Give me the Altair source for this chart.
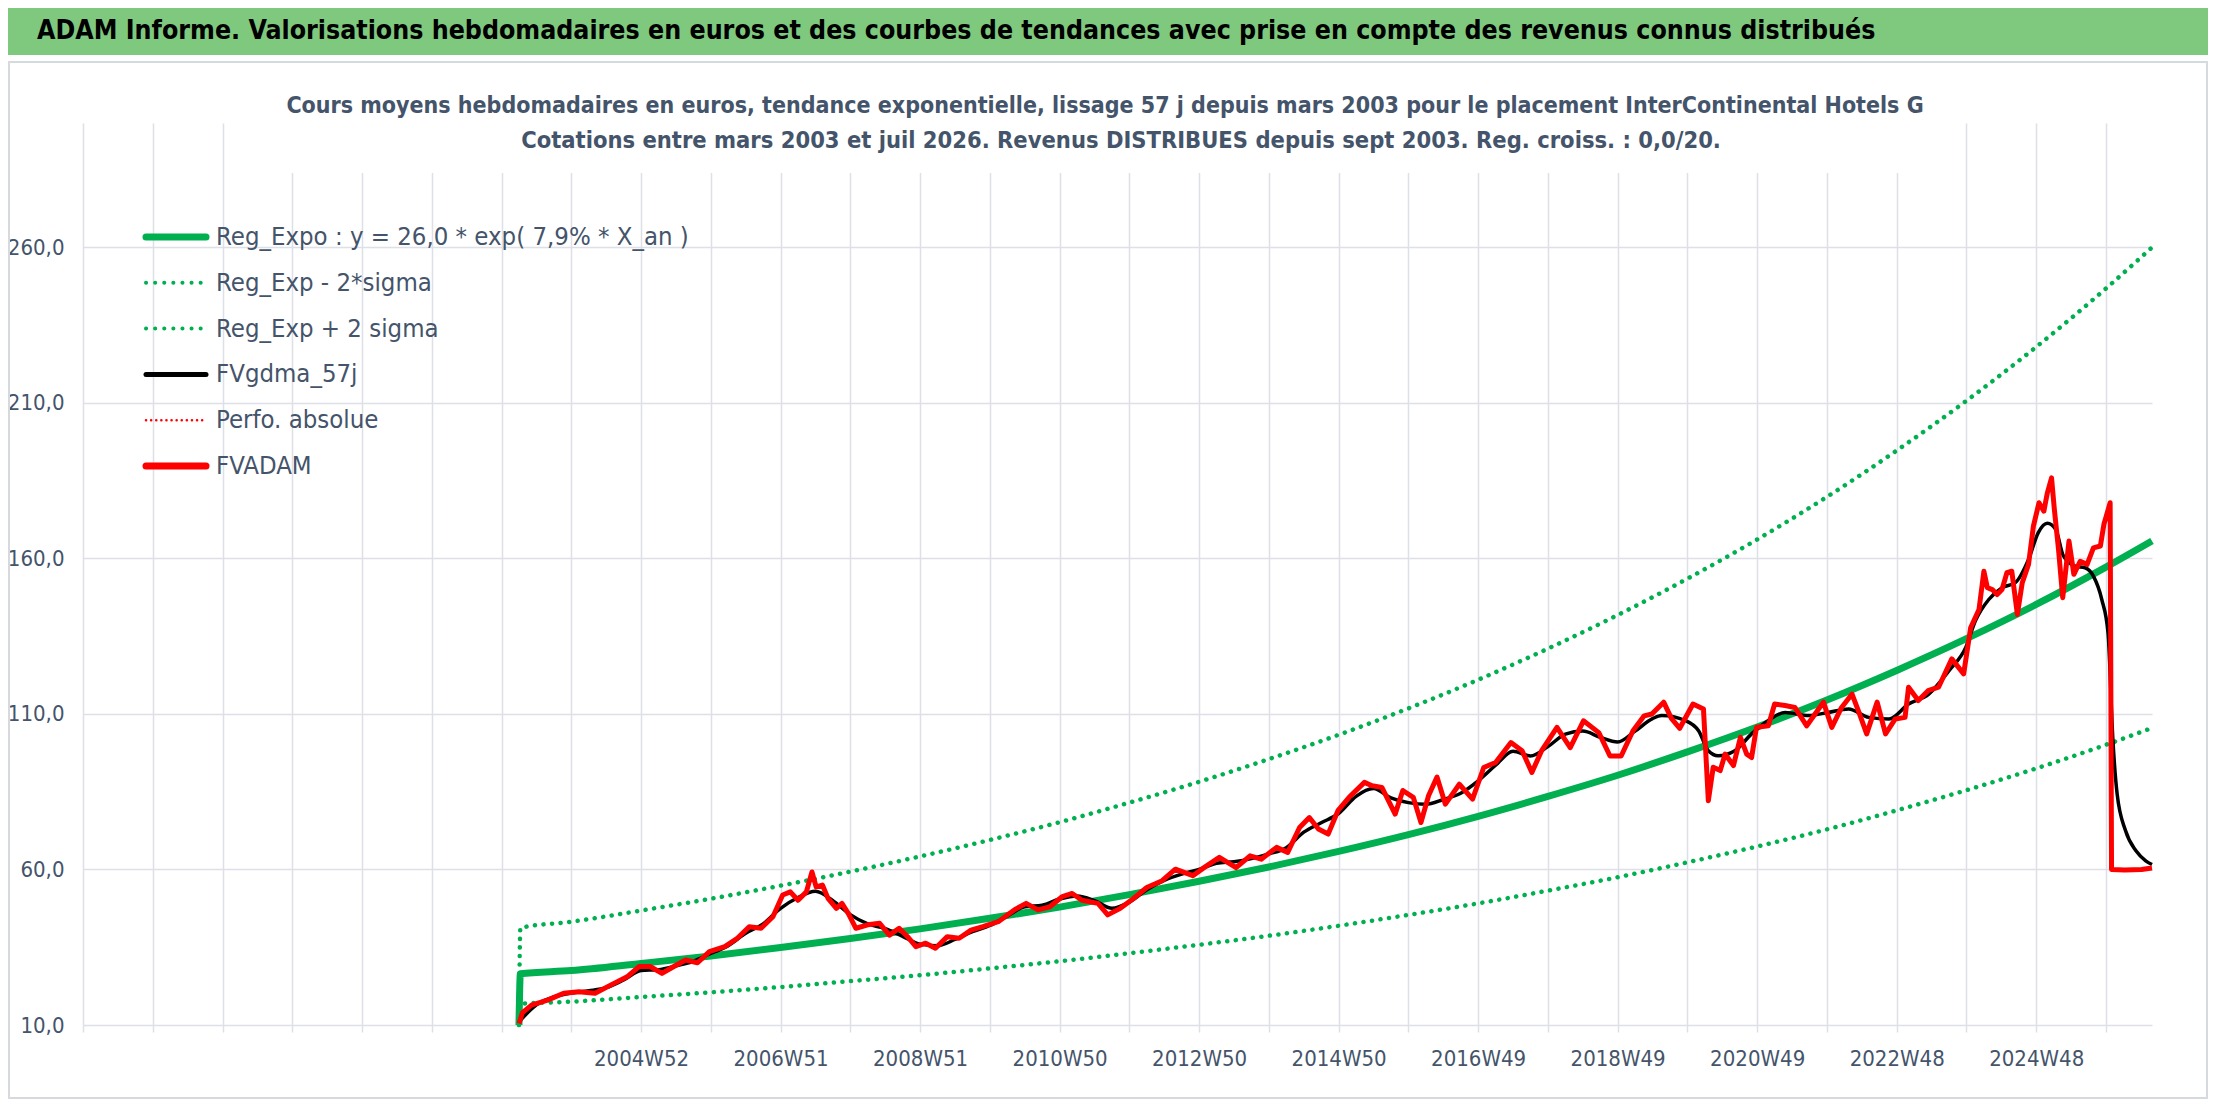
import altair as alt
import pandas as pd

# ---------------- data (x = year position, y = euros) ----------------
reg_t = [2003.25, 2003.27, 2004, 2005, 2006, 2007, 2008, 2009, 2010, 2011, 2012, 2013, 2014,
         2015, 2016, 2017, 2018, 2019, 2020, 2021, 2022, 2023, 2024, 2025, 2026, 2026.66]
reg_v = [10.0, 26.5, 27.5, 29.8, 32.2, 34.9, 37.8, 40.9, 44.3, 47.9, 51.9, 56.2, 60.8,
         65.8, 71.2, 77.1, 83.5, 90.3, 97.8, 105.8, 114.5, 124.0, 134.2, 145.2, 157.2, 165.6]
up_v = [10.0, 41.2, 43.2, 46.8, 50.6, 54.8, 59.3, 64.2, 69.5, 75.2, 81.5, 88.2, 95.5,
        103.3, 111.8, 121.0, 131.0, 141.8, 153.5, 166.1, 179.8, 194.7, 210.7, 228.0, 246.8, 260.0]
lo_v = [10.0, 16.8, 17.5, 19.0, 20.5, 22.2, 24.1, 26.0, 28.2, 30.5, 33.1, 35.8, 38.7,
        41.9, 45.4, 49.1, 53.2, 57.5, 62.3, 67.4, 72.9, 79.0, 85.5, 92.5, 100.1, 105.5]

red_readings = [
    (2003.25, 10.5), (2003.3, 14.0), (2003.43, 16.4), (2003.66, 18.0), (2003.89, 20.2),
    (2004.11, 20.7), (2004.34, 20.2), (2004.57, 22.9), (2004.8, 25.5), (2004.97, 28.8),
    (2005.13, 28.8), (2005.3, 26.6), (2005.47, 28.8), (2005.64, 30.9), (2005.81, 30.0),
    (2005.98, 33.6), (2006.2, 35.2), (2006.38, 37.9), (2006.55, 41.6), (2006.72, 41.1),
    (2006.89, 44.8), (2007.03, 51.8), (2007.14, 52.8), (2007.25, 50.1), (2007.37, 52.8),
    (2007.45, 59.2), (2007.51, 54.4), (2007.6, 55.0), (2007.68, 50.7), (2007.8, 47.5),
    (2007.88, 49.1), (2007.97, 45.9), (2008.08, 41.1), (2008.25, 42.2), (2008.42, 42.7),
    (2008.56, 38.9), (2008.7, 41.1), (2008.82, 38.4), (2008.94, 35.2), (2009.08, 36.3),
    (2009.22, 34.7), (2009.39, 38.4), (2009.56, 37.9), (2009.73, 40.5), (2009.9, 41.6),
    (2010.12, 43.2), (2010.35, 47.0), (2010.52, 49.1), (2010.69, 47.0), (2010.86, 48.0),
    (2011.04, 51.3), (2011.18, 52.3), (2011.32, 50.1), (2011.55, 49.1), (2011.69, 45.4),
    (2011.87, 47.5), (2012.05, 50.5), (2012.25, 54.2), (2012.47, 56.4), (2012.66, 60.1),
    (2012.91, 58.0), (2013.07, 60.6), (2013.29, 63.9), (2013.53, 60.6), (2013.73, 64.4),
    (2013.89, 63.3), (2014.11, 67.1), (2014.27, 65.5), (2014.44, 73.5), (2014.58, 76.7),
    (2014.71, 73.0), (2014.85, 71.4), (2014.99, 78.9), (2015.15, 83.2), (2015.37, 88.0),
    (2015.48, 86.9), (2015.62, 86.4), (2015.81, 77.8), (2015.92, 85.4), (2016.07, 83.2),
    (2016.18, 75.1), (2016.29, 83.8), (2016.41, 89.7), (2016.53, 81.0), (2016.73, 87.4),
    (2016.92, 82.6), (2017.08, 92.8), (2017.25, 94.4), (2017.47, 100.8), (2017.63, 98.2),
    (2017.77, 91.2), (2017.91, 98.2), (2018.13, 105.7), (2018.32, 99.2), (2018.51, 107.8),
    (2018.73, 104.0), (2018.89, 96.5), (2019.05, 96.5), (2019.22, 104.6), (2019.38, 109.4),
    (2019.49, 110.0), (2019.66, 113.8), (2019.77, 108.6), (2019.89, 105.4), (2020.08, 113.2),
    (2020.23, 111.6), (2020.3, 82.1), (2020.37, 92.9), (2020.47, 91.8), (2020.54, 97.1),
    (2020.66, 93.4), (2020.76, 102.5), (2020.85, 97.1), (2020.92, 96.0), (2020.99, 105.7),
    (2021.16, 106.2), (2021.25, 113.2), (2021.4, 112.7), (2021.54, 112.1), (2021.71, 106.2),
    (2021.83, 110.0), (2021.95, 113.8), (2022.07, 105.7), (2022.21, 112.1), (2022.36, 116.4),
    (2022.45, 111.1), (2022.57, 103.6), (2022.72, 113.8), (2022.84, 103.6), (2022.98, 108.4),
    (2023.12, 108.9), (2023.17, 118.6), (2023.31, 114.3), (2023.45, 117.5), (2023.6, 118.6),
    (2023.79, 127.7), (2023.96, 122.9), (2024.06, 137.7), (2024.18, 143.6), (2024.25, 155.9),
    (2024.3, 150.6), (2024.37, 150.0), (2024.44, 148.4), (2024.51, 150.0), (2024.58, 155.4),
    (2024.65, 155.9), (2024.73, 142.0), (2024.8, 152.2), (2024.89, 158.1), (2024.96, 170.4),
    (2025.04, 177.9), (2025.11, 175.2), (2025.16, 181.1), (2025.22, 185.9), (2025.26, 175.8),
    (2025.32, 162.9), (2025.38, 147.4), (2025.47, 165.6), (2025.54, 154.9), (2025.63, 159.1),
    (2025.73, 158.1), (2025.82, 163.4), (2025.92, 164.0), (2025.97, 170.9), (2026.06, 177.9),
    (2026.08, 60.0), (2026.27, 59.8), (2026.51, 60.0), (2026.66, 60.5),
]

black_readings = [
    (2003.25, 11.0), (2003.5, 16.5), (2003.75, 19.0), (2004.0, 20.3), (2004.25, 21.0),
    (2004.5, 22.0), (2004.75, 24.5), (2005.0, 27.5), (2005.25, 27.8), (2005.5, 29.0),
    (2005.75, 30.5), (2006.0, 33.0), (2006.25, 35.5), (2006.5, 39.5), (2006.75, 42.5),
    (2007.0, 47.5), (2007.25, 51.0), (2007.5, 53.0), (2007.75, 50.0), (2008.0, 45.5),
    (2008.25, 42.5), (2008.5, 41.0), (2008.75, 38.5), (2009.0, 36.0), (2009.25, 35.5),
    (2009.5, 37.5), (2009.75, 40.0), (2010.0, 42.0), (2010.25, 45.0), (2010.5, 48.0),
    (2010.75, 48.5), (2011.0, 50.5), (2011.25, 51.5), (2011.5, 50.0), (2011.75, 47.5),
    (2012.0, 49.5), (2012.25, 53.5), (2012.5, 56.5), (2012.75, 58.5), (2013.0, 60.0),
    (2013.25, 62.0), (2013.5, 62.5), (2013.75, 63.5), (2014.0, 65.0), (2014.25, 67.0),
    (2014.5, 72.0), (2014.75, 75.0), (2015.0, 78.0), (2015.25, 83.5), (2015.5, 86.0),
    (2015.75, 83.0), (2016.0, 81.5), (2016.25, 81.0), (2016.5, 82.5), (2016.75, 84.5),
    (2017.0, 88.5), (2017.25, 93.5), (2017.5, 98.0), (2017.75, 96.5), (2018.0, 99.5),
    (2018.25, 103.5), (2018.5, 104.5), (2018.75, 102.5), (2019.0, 101.0), (2019.25, 104.5),
    (2019.5, 108.5), (2019.63, 109.5), (2019.97, 107.9), (2020.16, 104.6), (2020.3, 98.2),
    (2020.44, 96.6), (2020.68, 98.2), (2020.92, 103.6), (2021.16, 107.9), (2021.4, 110.5),
    (2021.74, 109.5), (2022.02, 110.5), (2022.31, 111.6), (2022.6, 108.9), (2022.89, 108.4),
    (2023.17, 113.2), (2023.46, 116.4), (2023.75, 123.9), (2023.99, 131.4), (2024.13, 140.0),
    (2024.32, 146.8), (2024.51, 150.6), (2024.7, 152.2), (2024.89, 159.7), (2025.03, 168.3),
    (2025.16, 171.3), (2025.28, 169.3), (2025.39, 160.8), (2025.56, 157.5), (2025.7, 157.0),
    (2025.82, 154.3), (2025.94, 146.8), (2026.03, 136.0), (2026.1, 101.4), (2026.16, 84.3),
    (2026.28, 72.5), (2026.43, 66.0), (2026.57, 62.8), (2026.66, 61.6),
]

legend_labels = ["Reg_Expo : y = 26,0 * exp( 7,9% *  X_an )", "Reg_Exp - 2*sigma",
                 "Reg_Exp + 2 sigma", "FVgdma_57j", "Perfo. absolue", "FVADAM"]
x_grid_years = list(range(1997, 2027))
x_label_years = [2005, 2007, 2009, 2011, 2013, 2015, 2017, 2019, 2021, 2023, 2025]
x_labels = ["2004W52", "2006W51", "2008W51", "2010W50", "2012W50", "2014W50",
            "2016W49", "2018W49", "2020W49", "2022W48", "2024W48"]
y_ticks = [10, 60, 110, 160, 210, 260]

header_text = ("ADAM Informe. Valorisations hebdomadaires en euros et des courbes de tendances "
               "avec prise en compte des revenus connus distribués")
title_lines = ["Cours moyens hebdomadaires en euros, tendance exponentielle, lissage 57 j depuis mars 2003 pour le placement InterContinental Hotels G",
               "Cotations entre mars 2003 et juil 2026. Revenus DISTRIBUES depuis sept 2003. Reg. croiss. : 0,0/20."]

# ---------------- layout / style ----------------
W, H = 2069, 902
PAD_L, PAD_T, PAD_R, PAD_B = 75, 115, 56, 75
FONT = "Liberation Sans Narrow, DejaVu Sans Condensed, Roboto, sans-serif"
TXT = "#44546A"
GRID = "#DDE0E6"
GREEN = "#00B050"
RED = "#FF0000"

lab_arr = "[" + ",".join("'%s'" % s for s in x_labels) + "]"
yr_arr = "[" + ",".join(str(v) for v in x_label_years) + "]"
x_label_expr = f"indexof({yr_arr}, datum.value) >= 0 ? {lab_arr}[indexof({yr_arr}, datum.value)] : ''"

x_enc = alt.X("t:Q", scale=alt.Scale(domain=[1997, 2026.66], nice=False, zero=False),
              axis=alt.Axis(values=x_grid_years, labelExpr=x_label_expr, grid=True, gridColor=GRID,
                            gridWidth=1.5, ticks=True, tickColor=GRID, tickWidth=1.5, tickSize=7,
                            domain=False, labelFont=FONT, labelFontSize=22, labelColor=TXT,
                            labelPadding=16, labelOverlap=False, labelFlush=False, title=None))
y_enc = alt.Y("v:Q", scale=alt.Scale(domain=[10, 300], nice=False, zero=False),
              axis=alt.Axis(values=y_ticks, labelExpr="replace(format(datum.value, '.1f'), '.', ',')",
                            grid=True, gridColor=GRID, gridWidth=1.5, ticks=False, domain=False,
                            labelFont=FONT, labelFontSize=22, labelColor=TXT, labelPadding=19,
                            title=None))

one = pd.DataFrame({"k": [0]})


def series(ts, vs):
    return pd.DataFrame({"t": ts, "v": vs})


def pairs(readings):
    return pd.DataFrame(readings, columns=["t", "v"])


dot_style = dict(color=GREEN, strokeWidth=4.5, strokeDash=[0.1, 8.5], strokeCap="round")

upper = alt.Chart(series(reg_t, up_v)).mark_line(interpolate="monotone", **dot_style).encode(x=x_enc, y=y_enc)
lower = alt.Chart(series(reg_t, lo_v)).mark_line(interpolate="monotone", **dot_style).encode(x=x_enc, y=y_enc)
reg = alt.Chart(series(reg_t, reg_v)).mark_line(interpolate="monotone", color=GREEN, strokeWidth=7).encode(x=x_enc, y=y_enc)
blk = alt.Chart(pairs(black_readings)).mark_line(interpolate="monotone", color="#000000", strokeWidth=3.5,
                                                  strokeJoin="round").encode(x=x_enc, y=y_enc)
red = alt.Chart(pairs(red_readings)).mark_line(color=RED, strokeWidth=5, strokeJoin="round").encode(x=x_enc, y=y_enc)

# legend (drawn inside the plot area)
leg_styles = [
    dict(color=GREEN, strokeWidth=7, strokeCap="round"),
    dict(color=GREEN, strokeWidth=4, strokeDash=[0.1, 9], strokeCap="round"),
    dict(color=GREEN, strokeWidth=4, strokeDash=[0.1, 9], strokeCap="round"),
    dict(color="#000000", strokeWidth=5, strokeCap="round"),
    dict(color=RED, strokeWidth=2.5, strokeDash=[0.1, 5], strokeCap="round"),
    dict(color=RED, strokeWidth=7, strokeCap="round"),
]
legend_layers = []
for i, (lab, st) in enumerate(zip(legend_labels, leg_styles)):
    ypx = 114 + i * 45.8
    df = pd.DataFrame({"label": [lab]})
    legend_layers.append(alt.Chart(df).mark_rule(**st).encode(x=alt.value(63), x2=alt.value(123), y=alt.value(ypx)))
    legend_layers.append(alt.Chart(df).mark_text(align="left", baseline="middle", font=FONT, fontSize=25.5,
                                                 color=TXT).encode(x=alt.value(133), y=alt.value(ypx), text="label:N"))

# decorations: frame, header band, title box
frame = alt.Chart(one).mark_rect(fillOpacity=0, stroke="#D6D9DE", strokeWidth=2).encode(
    x=alt.value(-74), x2=alt.value(2124), y=alt.value(-61), y2=alt.value(975))
header_band = alt.Chart(one).mark_rect(fill="#7FC97F").encode(
    x=alt.value(-75), x2=alt.value(2125), y=alt.value(-115), y2=alt.value(-68))
header = alt.Chart(one).mark_text(text=header_text, align="left", baseline="middle", font=FONT,
                                  fontSize=26.5, fontWeight="bold", color="#000000").encode(
    x=alt.value(-46), y=alt.value(-92))
title_box = alt.Chart(one).mark_rect(fill="white").encode(
    x=alt.value(187), x2=alt.value(1862), y=alt.value(-50), y2=alt.value(50))
t1 = alt.Chart(one).mark_text(text=title_lines[0], align="center", baseline="middle", font=FONT,
                              fontSize=23, fontWeight="bold", color=TXT).encode(x=alt.value(1022), y=alt.value(-17))
t2 = alt.Chart(one).mark_text(text=title_lines[1], align="center", baseline="middle", font=FONT,
                              fontSize=23.5, fontWeight="bold", color=TXT).encode(x=alt.value(1038), y=alt.value(18))

chart = alt.layer(
    upper, lower, reg, blk, red, title_box, t1, t2, frame, header_band, header, *legend_layers
).properties(
    width=W, height=H,
    padding={"left": PAD_L, "top": PAD_T, "right": PAD_R, "bottom": PAD_B},
    autosize=alt.AutoSizeParams(type="none"),
    background="white",
).configure_view(stroke=None)

chart.save("out.html", embed_options={"renderer": "svg", "actions": False})
